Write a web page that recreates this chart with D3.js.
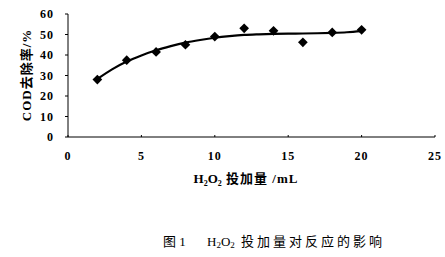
<!DOCTYPE html>
<html lang="zh"><head>
<meta charset="utf-8">
<script src="https://d3js.org/d3.v7.min.js"></script>
<style>
  body { margin: 0; background: #fff; }
  text { font-family: "Liberation Serif", "Noto Sans CJK SC", serif; }
</style>
</head><body>
<div id="chart"></div>
<script>
// measured points (H2O2 dose mL, COD removal %)
const doses = [2, 4, 6, 8, 10, 12, 14, 16, 18, 20];
const removal = [28, 37.5, 41.5, 45, 49, 53, 51.8, 46.2, 51, 52.3];
// trend line
const fitX = [2, 3, 4, 5, 6, 7, 8, 9, 10, 11, 12, 13, 14, 15, 16, 17, 18, 19, 20];
const fitY = [28.3, 33, 36.8, 39.8, 42.3, 44.3, 46, 47.3, 48.4, 49.2, 49.8, 50.1, 50.3, 50.4, 50.5, 50.6, 50.8, 51.1, 51.6];
const xTicks = [0, 5, 10, 15, 20, 25];
const yTicks = [0, 10, 20, 30, 40, 50, 60];

const W = 445, H = 257;
const svg = d3.select("#chart").append("svg")
  .attr("width", W).attr("height", H);

const x = d3.scaleLinear().domain([0, 25]).range([68, 435]);
const y = d3.scaleLinear().domain([0, 60]).range([137, 14]);

// axes
svg.append("line")
  .attr("x1", x(0)).attr("x2", x(25)).attr("y1", y(0)).attr("y2", y(0))
  .attr("stroke", "#000").attr("stroke-width", 1);
svg.append("line")
  .attr("x1", x(0)).attr("x2", x(0)).attr("y1", y(0)).attr("y2", y(60))
  .attr("stroke", "#000").attr("stroke-width", 1);

svg.selectAll(".yt").data(yTicks).join("line")
  .attr("x1", x(0) - 3).attr("x2", x(0))
  .attr("y1", d => y(d)).attr("y2", d => y(d))
  .attr("stroke", "#000");
svg.selectAll(".xt").data(xTicks).join("line")
  .attr("x1", d => x(d)).attr("x2", d => x(d))
  .attr("y1", y(0)).attr("y2", y(0) - 2)
  .attr("stroke", "#000");

svg.selectAll(".yl").data(yTicks).join("text")
  .attr("x", 54).attr("y", d => y(d) + 4)
  .attr("text-anchor", "end")
  .attr("letter-spacing", "1px")
  .style("font-size", "12px").style("font-weight", "bold")
  .text(d => d);
svg.selectAll(".xl").data(xTicks).join("text")
  .attr("x", d => x(d)).attr("y", 160)
  .attr("text-anchor", "middle")
  .attr("letter-spacing", "1px")
  .style("font-size", "12px").style("font-weight", "bold")
  .text(d => d);

// axis titles
const xt = svg.append("text")
  .attr("x", 246).attr("y", 183)
  .attr("text-anchor", "middle")
  .style("font-size", "13px").style("font-weight", "bold");
xt.append("tspan").text("H");
xt.append("tspan").attr("dy", 3).style("font-size", "8px").text("2");
xt.append("tspan").attr("dy", -3).text("O");
xt.append("tspan").attr("dy", 3).style("font-size", "8px").text("2");
xt.append("tspan").attr("dy", -3).attr("letter-spacing", "1px").text(" 投加量 /mL");

svg.append("text")
  .attr("transform", `translate(31, 75) rotate(-90)`)
  .attr("text-anchor", "middle")
  .attr("letter-spacing", "1px")
  .style("font-size", "13px").style("font-weight", "bold")
  .text("COD去除率/%");

// trend line
svg.append("path")
  .datum(fitX.map((d, i) => [d, fitY[i]]))
  .attr("fill", "none").attr("stroke", "#000").attr("stroke-width", 2.2)
  .attr("d", d3.line().x(d => x(d[0])).y(d => y(d[1])).curve(d3.curveMonotoneX));

// diamond markers
svg.selectAll(".pt").data(doses).join("path")
  .attr("transform", (d, i) => `translate(${x(d)},${y(removal[i])})`)
  .attr("d", d3.symbol(d3.symbolDiamond2, 60))
  .attr("fill", "#000");

// caption
const cap = svg.append("text")
  .attr("x", 163).attr("y", 246)
  .style("font-size", "13px");
cap.append("tspan").text("图 1");
cap.append("tspan").attr("x", 207).text("H");
cap.append("tspan").attr("dy", 2).style("font-size", "9px").text("2");
cap.append("tspan").attr("dy", -2).text("O");
cap.append("tspan").attr("dy", 2).style("font-size", "9px").text("2");
cap.append("tspan").attr("dy", -2).attr("letter-spacing", "3px").text(" 投加量对反应的影响");
</script>
</body></html>
